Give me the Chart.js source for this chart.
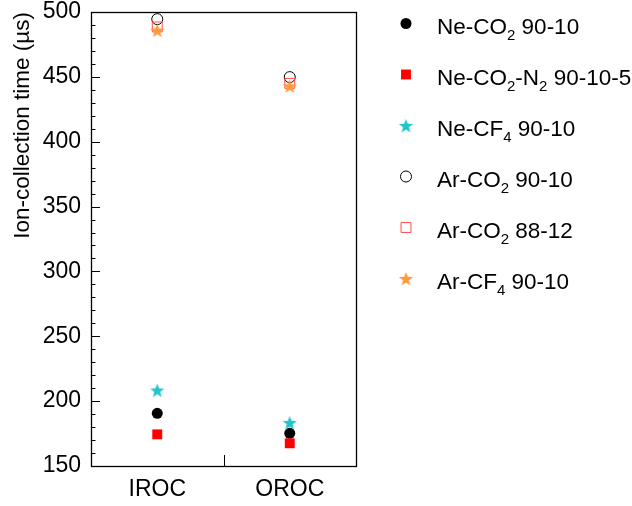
<!DOCTYPE html>
<html><head><meta charset="utf-8">
<script src="https://cdn.jsdelivr.net/npm/chart.js@4.4.0/dist/chart.umd.min.js"></script>
<style>html,body{margin:0;padding:0;background:#fff}#wrap{width:632px;height:506px;position:relative}</style>
</head><body><div id="wrap"><canvas id="c" width="632" height="506"></canvas></div>
<script>
// ---- data ----
const categories = ['IROC', 'OROC'];
const seriesLabels = ['Ne-CO₂ 90-10', 'Ne-CO₂-N₂ 90-10-5', 'Ne-CF₄ 90-10', 'Ar-CO₂ 90-10', 'Ar-CO₂ 88-12', 'Ar-CF₄ 90-10'];
const neCO2_9010 = [190.6, 175.2];
const neCO2N2_90105 = [174.4, 167.5];
const neCF4_9010 = [208.5, 183.5];
const arCO2_9010 = [494.5, 449.8];
const arCO2_8812 = [488.5, 445.0];
const arCF4_9010 = [486.0, 443.0];
const yMin = 150, yMax = 500, yStep = 50, yMinorStep = 10;
const yTitle = 'Ion-collection time (µs)';

const FONT = 'Liberation Sans, Arial, Helvetica, sans-serif';

function starCanvas(color, size) {
  const c = document.createElement('canvas');
  c.width = size; c.height = size;
  const g = c.getContext('2d');
  g.fillStyle = color;
  g.beginPath();
  const cx = size / 2, cy = size / 2 + size * 0.06, R = size / 2, r = R * 0.42;
  for (let i = 0; i < 10; i++) {
    const a = -Math.PI / 2 + i * Math.PI / 5;
    const rad = i % 2 ? r : R;
    g.lineTo(cx + rad * Math.cos(a), cy + rad * Math.sin(a));
  }
  g.closePath();
  g.fill();
  return c;
}
const cyanStar = starCanvas('#22c4cc', 15);
const orangeStar = starCanvas('#ff9a3c', 15);

const styles = [
  {pointStyle: 'circle', pointRadius: 5.5, bg: '#000000', border: '#000000', bw: 0},
  {pointStyle: 'rect', pointRadius: 7, bg: '#ff0000', border: '#ff0000', bw: 0},
  {pointStyle: cyanStar, pointRadius: 7, bg: '#22c4cc', border: '#22c4cc', bw: 0},
  {pointStyle: 'circle', pointRadius: 5.5, bg: 'rgba(255,255,255,0)', border: '#000000', bw: 1},
  {pointStyle: 'rect', pointRadius: 7, bg: 'rgba(255,255,255,0)', border: '#ff4d4d', bw: 1},
  {pointStyle: orangeStar, pointRadius: 7, bg: '#ff9a3c', border: '#ff9a3c', bw: 0}
];
const seriesData = [neCO2_9010, neCO2N2_90105, neCF4_9010, arCO2_9010, arCO2_8812, arCF4_9010];

const datasets = seriesData.map((d, i) => ({
  label: seriesLabels[i],
  data: d,
  showLine: false,
  pointStyle: styles[i].pointStyle,
  pointRadius: styles[i].pointRadius,
  pointHoverRadius: styles[i].pointRadius,
  pointBackgroundColor: styles[i].bg,
  pointBorderColor: styles[i].border,
  pointBorderWidth: styles[i].bw,
  backgroundColor: styles[i].bg,
  borderColor: styles[i].border,
  order: 5 - i
}));

// frame + inside ticks
const framePlugin = {
  id: 'frame',
  beforeDatasetsDraw(chart) {
    const {ctx, chartArea: a, scales} = chart;
    ctx.save();
    ctx.strokeStyle = '#000';
    ctx.lineWidth = 1.3;
    ctx.strokeRect(Math.round(a.left) + 0.5, Math.round(a.top) + 0.5, Math.round(a.right - a.left), Math.round(a.bottom - a.top));
    ctx.beginPath();
    ctx.lineWidth = 1;
    const y = scales.y;
    for (let v = yMin; v <= yMax; v += yMinorStep) {
      const py = Math.round(y.getPixelForValue(v)) + 0.5;
      const len = (v % yStep === 0) ? 9 : 4.5;
      ctx.moveTo(Math.round(a.left), py);
      ctx.lineTo(Math.round(a.left) + len, py);
    }
    const x = scales.x;
    const mid = Math.round((x.getPixelForValue(0) + x.getPixelForValue(1)) / 2) + 0.5;
    ctx.moveTo(mid, Math.round(a.bottom));
    ctx.lineTo(mid, Math.round(a.bottom) - 11);
    ctx.stroke();
    ctx.restore();
  }
};

// side legend with subscripts
const subMap = {'₀':'0','₁':'1','₂':'2','₃':'3','₄':'4','₅':'5','₆':'6','₇':'7','₈':'8','₉':'9'};
const legendPlugin = {
  id: 'sideLegend',
  afterDraw(chart) {
    const ctx = chart.ctx;
    const mx = 406, tx = 437, y0 = 23.5, dy = 51;
    chart.data.datasets.forEach((ds, i) => {
      const y = y0 + i * dy;
      ctx.save();
      ctx.fillStyle = ds.pointBackgroundColor;
      ctx.strokeStyle = ds.pointBorderColor;
      ctx.lineWidth = ds.pointBorderWidth;
      Chart.helpers.drawPoint(ctx, {pointStyle: ds.pointStyle, radius: ds.pointRadius, borderWidth: ds.pointBorderWidth, rotation: 0}, mx, y);
      ctx.restore();
      ctx.save();
      ctx.fillStyle = '#000';
      ctx.textBaseline = 'alphabetic';
      ctx.textAlign = 'left';
      let x = tx;
      const base = y + 10.5;
      for (const ch of ds.label) {
        if (subMap[ch]) {
          ctx.font = '15px ' + FONT;
          ctx.fillText(subMap[ch], x, base + 6);
          x += ctx.measureText(subMap[ch]).width;
        } else {
          ctx.font = '22.5px ' + FONT;
          ctx.fillText(ch, x, base);
          x += ctx.measureText(ch).width;
        }
      }
      ctx.restore();
    });
  }
};

new Chart(document.getElementById('c'), {
  type: 'line',
  data: {labels: categories, datasets},
  options: {
    responsive: false,
    animation: false,
    devicePixelRatio: 1,
    layout: {padding: {top: 12, right: 276, left: 0, bottom: 0}},
    plugins: {legend: {display: false}, tooltip: {enabled: false}},
    scales: {
      x: {
        type: 'category',
        offset: true,
        grid: {display: false, drawTicks: false},
        border: {display: false},
        ticks: {color: '#000', font: {size: 23, family: FONT}, padding: 10, maxRotation: 0},
        afterFit(s) { s.height = 40; s.paddingLeft = 0; s.paddingRight = 0; }
      },
      y: {
        min: yMin, max: yMax,
        grid: {display: false, drawTicks: false},
        border: {display: false},
        ticks: {stepSize: yStep, color: '#000', font: {size: 23, family: FONT}, padding: 10},
        title: {display: true, text: yTitle, align: 'end', color: '#000', font: {size: 22.5, family: FONT}, padding: {top: 9, bottom: 0}},
        afterFit(s) { s.width = 91; s.paddingTop = 0; s.paddingBottom = 0; }
      }
    }
  },
  plugins: [framePlugin, legendPlugin]
});
</script>
</body></html>
